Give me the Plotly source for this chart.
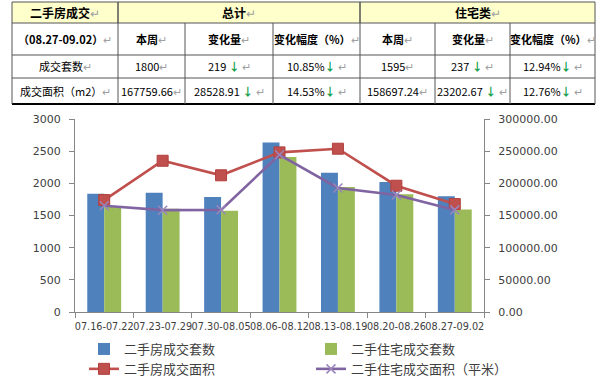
import plotly.graph_objects as go

# ---------------- data ----------------
categories = ["07.16-07.22", "07.23-07.29", "07.30-08.05", "08.06-08.12",
              "08.13-08.19", "08.20-08.26", "08.27-09.02"]
sets_all = [1839, 1854, 1788, 2633, 2163, 2019, 1800]          # 二手房成交套数
sets_res = [1635, 1604, 1572, 2408, 1943, 1832, 1595]          # 二手住宅成交套数
area_all = [174000, 235100, 212500, 248100, 253800, 196288.57, 167759.66]   # 二手房成交面积
area_res = [165100, 158300, 158800, 244400, 192800, 181899.91, 158697.24]   # 二手住宅成交面积（平米）

series_names = ["二手房成交套数", "二手住宅成交套数", "二手房成交面积", "二手住宅成交面积（平米）"]

# table texts
header_groups = ["二手房成交", "总计", "住宅类"]
sub_headers = ["（08.27-09.02）", "本周", "变化量", "变化幅度（%）", "本周", "变化量", "变化幅度（%）"]
row_labels = ["成交套数", "成交面积（m2）"]
total_week = ["1800", "167759.66"]
total_change = ["219", "28528.91"]
total_pct = ["10.85%", "14.53%"]
res_week = ["1595", "158697.24"]
res_change = ["237", "23202.67"]
res_pct = ["12.94%", "12.76%"]

# ---------------- layout geometry (pixels) ----------------
W, H = 598, 377
L, R, T, B = 75, 114, 119, 65
PW, PH = W - L - R, H - T - B


def px(x):
    return (x - L) / PW


def py(y):
    return (H - B - y) / PH


col_edges = [12, 118, 185, 273, 360, 435, 510, 595]
row_edges = [2, 23, 55, 78, 104]
group_spans = [(0, 1), (1, 4), (4, 7)]

BLUE = "#4F81BD"
GREEN = "#9BBB59"
RED = "#C0504D"
PURPLE = "#8064A2"
AXIS = "#868686"
TXT = "#404040"

fig = go.Figure()
fig.add_trace(go.Bar(x=categories, y=sets_all, name=series_names[0],
                     marker=dict(color=BLUE, line=dict(width=0)), yaxis="y"))
fig.add_trace(go.Bar(x=categories, y=sets_res, name=series_names[1],
                     marker=dict(color=GREEN, line=dict(width=0)), yaxis="y"))
fig.add_trace(go.Scatter(x=categories, y=area_all, name=series_names[2], yaxis="y2",
                         mode="lines+markers",
                         line=dict(color=RED, width=2.6),
                         marker=dict(symbol="square", size=11, color=RED,
                                     line=dict(width=1, color="#B0403D"))))
fig.add_trace(go.Scatter(x=categories, y=area_res, name=series_names[3], yaxis="y2",
                         mode="lines+markers",
                         line=dict(color=PURPLE, width=2.6),
                         marker=dict(symbol="x-thin", size=9,
                                     line=dict(width=1.5, color="#9B86BC"))))

# ---------------- table (shapes + annotations) ----------------
shapes = []
shapes.append(dict(type="rect", xref="paper", yref="paper",
                   x0=px(col_edges[0]), x1=px(col_edges[-1]),
                   y0=py(row_edges[1]), y1=py(row_edges[0]),
                   fillcolor="#FFFFCC", line=dict(width=0), layer="below"))
for i, ye in enumerate(row_edges):
    last = i == len(row_edges) - 1
    shapes.append(dict(type="line", xref="paper", yref="paper",
                       x0=px(col_edges[0]), x1=px(col_edges[-1]),
                       y0=py(ye), y1=py(ye),
                       line=dict(color="#000000" if last else "#555555",
                                 width=2 if last else 1)))
for a, b in group_spans:
    for xe in (col_edges[a], col_edges[b]):
        shapes.append(dict(type="line", xref="paper", yref="paper",
                           x0=px(xe), x1=px(xe), y0=py(row_edges[0]), y1=py(row_edges[1]),
                           line=dict(color="#555555", width=1)))
for xe in col_edges:
    shapes.append(dict(type="line", xref="paper", yref="paper",
                       x0=px(xe), x1=px(xe), y0=py(row_edges[1]), y1=py(row_edges[-1]),
                       line=dict(color="#555555", width=1)))

RET = "<span style='color:#A0A0A0'>↵</span>"
ARW = "<span style='color:#12A04A'><b>↓</b></span>"
annotations = []


def cell(text, c0, c1, r, size=11, bold=False):
    t = "<b>%s</b>" % text if bold else text
    annotations.append(dict(xref="paper", yref="paper",
                            x=px((col_edges[c0] + col_edges[c1]) / 2),
                            y=py((row_edges[r] + row_edges[r + 1]) / 2),
                            text=t + RET, showarrow=False, xanchor="center", yanchor="middle",
                            font=dict(family="Noto Sans CJK SC", size=size, color="#000000")))


for (a, b), txt in zip(group_spans, header_groups):
    cell(txt, a, b, 0, size=12, bold=True)
for j, txt in enumerate(sub_headers):
    cell(txt, j, j + 1, 1, size=11, bold=True)
for i in range(2):
    r = 2 + i
    cell(row_labels[i], 0, 1, r)
    cell(total_week[i], 1, 2, r)
    cell(total_change[i] + " " + ARW + " ", 2, 3, r)
    cell(total_pct[i] + ARW + " ", 3, 4, r)
    cell(res_week[i], 4, 5, r)
    cell(res_change[i] + " " + ARW + " ", 5, 6, r)
    cell(res_pct[i] + ARW + " ", 6, 7, r)

fig.update_layout(
    width=W, height=H,
    margin=dict(l=L, r=R, t=T, b=B, pad=0, autoexpand=False),
    paper_bgcolor="white", plot_bgcolor="white",
    barmode="group", bargap=0.42, bargroupgap=0,
    shapes=shapes, annotations=annotations,
    xaxis=dict(type="category", tickson="boundaries", ticks="outside", ticklen=5,
               tickcolor=AXIS, showline=True, linecolor=AXIS, linewidth=1,
               tickangle=0, showgrid=False, ticklabelstandoff=5,
               tickfont=dict(family="DejaVu Sans", size=9.7, color=TXT)),
    yaxis=dict(range=[0, 3000], dtick=500, showline=True, linecolor=AXIS, ticks="outside",
               ticklen=5, tickcolor=AXIS, showgrid=False, zeroline=False,
               ticklabelstandoff=6,
               tickfont=dict(family="DejaVu Sans", size=11, color=TXT)),
    yaxis2=dict(range=[0, 300000], dtick=50000, overlaying="y", side="right",
                tickformat=".2f", showline=True, linecolor=AXIS, ticks="outside",
                ticklen=5, tickcolor=AXIS, showgrid=False, zeroline=False,
                ticklabelstandoff=6,
                tickfont=dict(family="DejaVu Sans", size=11, color=TXT)),
    legend=dict(orientation="h", x=px(538), xanchor="right", y=py(334), yanchor="top",
                entrywidth=182, entrywidthmode="pixels", tracegroupgap=0,
                bgcolor="rgba(0,0,0,0)",
                font=dict(family="Noto Sans CJK SC", size=13, color=TXT)),
    showlegend=True,
)

fig.write_html("out.html", config={"displayModeBar": False},
               post_script="document.body.style.margin='0px';document.body.style.padding='0px';")
